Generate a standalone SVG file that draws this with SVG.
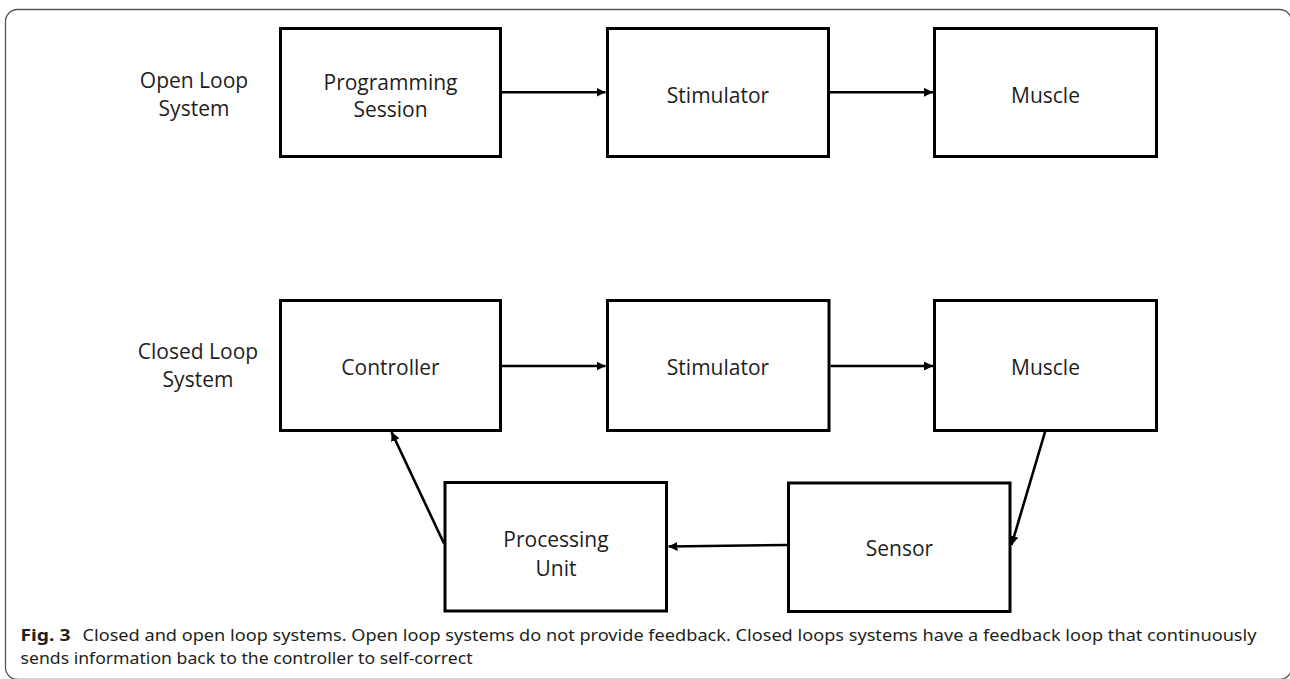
<svg xmlns="http://www.w3.org/2000/svg" width="1290" height="679" viewBox="0 0 1290 679">
<style>
.box{fill:#fff;stroke:#000;stroke-width:3}
.lbl{font-family:"Open Sans","Noto Sans",sans-serif;font-size:21px;fill:#1e1e1e;text-anchor:middle}
.con{stroke:#000;stroke-width:2.6;fill:none;marker-end:url(#ah)}
.cap{font-family:"Noto Sans","Open Sans",sans-serif;font-size:16.5px;fill:#231f20}
</style>
<defs>
<marker id="ah" markerUnits="userSpaceOnUse" markerWidth="10" markerHeight="9" refX="9" refY="4.5" orient="auto">
<path d="M0,0 L9,4.5 L0,9 Z" fill="#000"/>
</marker>
</defs>
<rect x="0" y="0" width="1290" height="679" fill="#fff"/>
<rect id="frame" x="5.5" y="9.5" width="1286" height="670" rx="12" fill="none" stroke="#555" stroke-width="1.3"/>

<g id="labels">
<text class="lbl" x="194" y="88">Open Loop</text>
<text class="lbl" x="194" y="116">System</text>
<text class="lbl" x="198" y="359">Closed Loop</text>
<text class="lbl" x="198" y="387">System</text>
</g>

<g id="node-programming">
<rect class="box" x="280.5" y="28.5" width="220" height="128"/>
<text class="lbl" x="390.5" y="90">Programming</text>
<text class="lbl" x="390.5" y="117">Session</text>
</g>
<g id="node-stimulator-open">
<rect class="box" x="607.5" y="28.5" width="221" height="128"/>
<text class="lbl" x="718" y="103">Stimulator</text>
</g>
<g id="node-muscle-open">
<rect class="box" x="934.5" y="28.5" width="222" height="128"/>
<text class="lbl" x="1045.5" y="103">Muscle</text>
</g>
<g id="node-controller">
<rect class="box" x="280.5" y="300.5" width="220" height="130"/>
<text class="lbl" x="390.5" y="375">Controller</text>
</g>
<g id="node-stimulator-closed">
<rect class="box" x="607.5" y="300.5" width="221.5" height="130"/>
<text class="lbl" x="718" y="375">Stimulator</text>
</g>
<g id="node-muscle-closed">
<rect class="box" x="934.5" y="300.5" width="222" height="130"/>
<text class="lbl" x="1045.5" y="375">Muscle</text>
</g>
<g id="node-processing">
<rect class="box" x="445" y="482.5" width="221.5" height="128.5"/>
<text class="lbl" x="556" y="547">Processing</text>
<text class="lbl" x="556" y="575.5">Unit</text>
</g>
<g id="node-sensor">
<rect class="box" x="788.5" y="483" width="221.5" height="128.5"/>
<text class="lbl" x="899.5" y="556">Sensor</text>
</g>

<g id="connectors">
<line class="con" x1="502" y1="92.3" x2="605.5" y2="92.3"/>
<line class="con" x1="830" y1="92.3" x2="933" y2="92.3"/>
<line class="con" x1="502" y1="366" x2="605.5" y2="366"/>
<line class="con" x1="830.5" y1="366" x2="933" y2="366"/>
<line class="con" x1="1045" y1="432" x2="1011.5" y2="545"/>
<line class="con" x1="787" y1="545" x2="668.5" y2="546.5"/>
<line class="con" x1="444" y1="543.5" x2="391.5" y2="432"/>
</g>

<g id="caption">
<text class="cap" x="20.5" y="641" font-weight="bold" font-size="18" textLength="50" lengthAdjust="spacingAndGlyphs">Fig. 3</text>
<text class="cap" x="82.5" y="641" textLength="1174" lengthAdjust="spacingAndGlyphs">Closed and open loop systems. Open loop systems do not provide feedback. Closed loops systems have a feedback loop that continuously</text>
<text class="cap" x="20.5" y="664" textLength="452" lengthAdjust="spacingAndGlyphs">sends information back to the controller to self-correct</text>
</g>
</svg>
